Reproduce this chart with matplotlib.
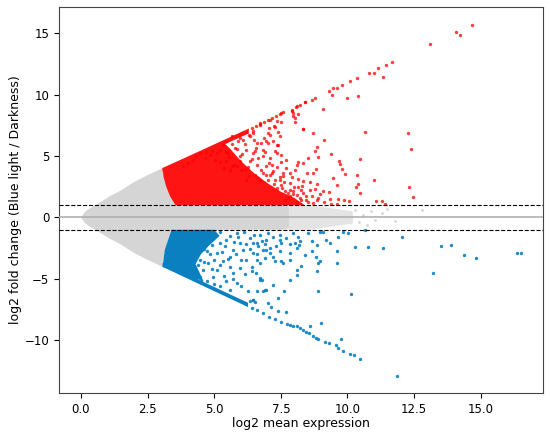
import numpy as np
import matplotlib
matplotlib.use("Agg")
import matplotlib.pyplot as plt

# envelope of the dense grey cone (upper half, mirrored for lower)
cone_x = [0.0, 0.15, 0.3, 0.5, 0.8, 1.1, 1.5, 2.0, 2.5, 3.06]
cone_y = [0.0, 0.45, 0.7, 0.95, 1.35, 1.75, 2.2, 2.9, 3.45, 4.02]

# dense grey band between the cut-offs (right part of the cloud)
band_x = [3.0, 3.6, 7.5, 7.8, 7.8, 7.5, 3.45, 3.0]
band_y = [4.02, 1.0, 1.0, 0.8, -0.8, -1.0, -1.0, -4.02]
# thinner grey tail of the band
tail_x = [7.4, 8.6, 10.2, 10.2, 8.6, 7.4]
tail_y = [1.0, 1.0, 0.5, -0.5, -1.0, -1.0]

# dense red (up) region outline
red_dense_x = [3.06, 4.2, 5.3, 5.6, 6.0, 6.5, 7.0, 7.5, 8.0, 8.4, 3.55, 3.35, 3.2, 3.1]
red_dense_y = [4.02, 5.1, 6.2, 5.6, 4.6, 3.6, 2.8, 2.1, 1.6, 1.0, 1.0, 1.7, 2.5, 3.3]
# red band along the maximum-fold-change edge
red_edge_x = [3.06, 6.3, 6.3, 3.06]
red_edge_y = [4.02, 7.25, 6.85, 3.7]

# dense blue (down) region outline
blue_dense_x = [3.4, 5.0, 5.2, 4.8, 4.5, 4.3, 4.6, 3.06, 3.15]
blue_dense_y = [-1.0, -1.0, -1.5, -2.3, -3.0, -3.8, -5.2, -4.02, -2.6]
blue_edge_x = [3.06, 6.27, 6.27, 3.06]
blue_edge_y = [-4.02, -7.3, -6.95, -3.7]

# scattered up-regulated genes
red_x = [14.69, 14.09, 14.21, 13.11, 11.67, 11.45, 11.16, 11.0, 10.81, 11.32, 10.35, 10.09,
         9.81, 9.61, 9.46, 9.30, 9.42, 10.0, 10.41, 8.77, 8.65, 8.42, 8.21, 8.05, 7.90, 7.59,
         9.09, 7.96, 8.15, 8.02, 8.02, 8.34, 8.69, 9.11, 10.67, 12.26, 12.39, 8.87, 8.79, 8.90,
         9.39, 9.69, 9.71, 9.79, 9.90, 10.46, 10.36, 10.99, 10.41, 10.31, 10.46, 12.32, 12.47,
         11.06, 11.30, 11.39, 10.05, 9.86, 9.65, 9.35, 9.39, 9.59, 9.09, 9.30, 8.84, 8.96, 9.59,
         9.45, 8.52, 8.34, 8.16, 8.72, 8.80, 8.49, 8.59, 8.77, 8.59, 8.34, 8.15, 7.96, 7.84,
         7.65, 8.09, 8.46, 8.84, 8.65, 7.84, 7.71, 7.52, 7.34, 7.34, 7.46, 7.52, 7.09, 7.02,
         6.84, 7.27, 7.09, 6.71, 6.77, 6.46, 6.52, 7.15, 7.46, 7.59, 7.09,
         6.4, 6.55, 6.7, 6.85, 7.0, 7.15, 7.3, 7.45,
         8.09, 8.40, 7.90, 7.96, 8.34, 7.52, 7.34, 7.24, 7.02, 6.96, 7.40, 7.27, 7.52, 6.71,
         6.46, 6.59, 6.34, 6.21, 6.09, 5.90, 5.77, 5.65, 5.46, 5.34, 5.21, 5.52, 5.96, 6.34,
         6.65, 6.96, 6.84, 7.21, 7.59, 7.84, 8.09, 8.02, 8.34, 8.27, 8.46, 7.65, 7.34, 5.02,
         4.84, 4.65, 4.46, 5.09, 5.84, 6.15, 6.52, 6.71, 7.02, 5.96, 5.46, 5.65, 4.21, 4.02,
         3.84, 6.84, 6.46, 7.09, 6.21, 7.27, 7.52, 7.84, 8.09, 7.77, 8.27,
         5.55, 5.75, 5.85, 6.05, 6.25, 6.4, 6.55, 6.6, 6.75, 6.9, 7.05, 7.15, 7.35, 7.45, 7.6,
         7.7, 7.9, 8.0, 8.15, 8.3, 5.45, 5.65, 5.95, 6.15, 6.3, 6.5, 6.85, 7.05, 7.2, 7.4,
         6.0, 6.3, 6.65, 6.95, 7.25, 7.55, 7.75, 7.95, 8.2, 8.5, 8.7, 8.9, 9.1, 5.2, 5.35,
         5.6, 4.9, 4.7, 4.3]
red_y = [15.70, 15.10, 14.86, 14.13, 12.66, 12.41, 12.14, 11.79, 11.76, 11.41, 11.33, 11.08,
         10.78, 10.59, 10.51, 10.29, 9.99, 9.70, 9.86, 9.70, 9.59, 9.40, 9.18, 9.04, 8.72, 8.56,
         8.83, 8.50, 8.47, 8.09, 7.74, 7.20, 6.87, 6.33, 6.98, 6.90, 5.54, 5.78, 5.38, 4.89,
         5.21, 4.64, 4.34, 3.96, 3.58, 4.75, 3.50, 3.04, 2.74, 2.47, 2.03, 2.50, 1.68,
         1.33, 1.33, 1.11, 1.33, 1.41, 1.54, 1.52, 1.08, 1.11, 2.14, 2.11, 2.71, 1.90, 2.63,
         3.20, 4.83, 4.42, 4.48, 3.61, 3.94, 3.61, 2.93, 2.30, 2.25, 1.98, 2.52, 2.12, 1.71,
         1.44, 1.30, 1.44, 1.44, 1.71, 3.61, 4.02, 4.56, 5.24, 5.92, 6.60, 7.82, 6.73, 6.06,
         4.97, 7.41, 7.96, 7.55, 6.06, 6.87, 5.38, 4.29, 3.07, 3.61, 3.47,
         7.3, 7.45, 7.6, 7.8, 7.95, 8.1, 8.25, 8.4,
         9.05, 9.37, 8.64, 8.29, 7.20, 8.51, 7.83, 7.42, 6.88, 6.20, 5.92, 5.38, 5.11, 7.69,
         7.01, 6.06, 6.60, 5.52, 6.33, 6.20, 5.65, 6.60, 6.20, 5.92, 5.52, 5.25, 4.97, 4.57,
         4.84, 4.16, 3.61, 3.75, 3.34, 2.80, 4.29, 3.89, 2.94, 2.26, 1.71, 2.12, 2.39, 4.70,
         5.11, 4.84, 5.25, 5.25, 4.16, 3.89, 3.48, 2.94, 3.07, 4.57, 4.57, 4.16, 4.70, 4.43,
         4.16, 5.52, 5.25, 4.84, 3.07, 3.07, 2.66, 2.26, 1.85, 1.58, 1.44,
         4.9, 4.3, 5.6, 5.2, 4.1, 4.8, 5.7, 4.3, 3.9, 5.3, 4.4, 3.6, 4.1, 3.3, 2.9,
         4.7, 3.3, 2.5, 3.1, 2.6, 5.3, 6.0, 6.5, 6.0, 6.7, 6.3, 6.5, 7.3, 6.2, 7.0,
         3.9, 3.4, 3.2, 3.5, 2.7, 2.4, 2.0, 1.9, 1.6, 1.25, 1.15, 1.6, 1.25, 4.5, 4.0,
         3.9, 5.4, 5.3, 5.0]

# scattered down-regulated genes
blue_x = [12.05, 13.51, 13.90, 14.36, 14.81, 16.37, 16.52, 13.21, 11.85, 10.77, 11.34, 10.30,
          10.66, 10.12, 10.46, 10.24, 10.09, 9.84, 9.65, 9.75, 9.56, 9.30, 9.15, 8.90, 8.81,
          8.69, 8.56, 8.44, 8.34, 8.21, 8.09, 7.96, 7.84, 7.74, 8.59, 9.02, 7.49, 7.27, 7.06,
          6.84, 6.59, 6.40, 7.71, 7.40, 7.12, 7.02, 7.40, 7.61, 7.21, 6.90, 6.84, 6.59, 6.46,
          6.52, 6.71, 6.81, 6.40, 7.86, 8.12, 8.90, 8.86, 8.90, 8.96, 8.24, 8.40, 8.80, 8.67,
          8.84, 9.34, 9.19, 9.61, 9.59, 9.65, 10.02, 9.84, 9.09, 8.96, 8.52, 8.19, 8.21, 8.02,
          7.84, 8.09, 7.96, 7.71, 7.46, 7.52, 7.46, 7.52, 7.27, 7.31, 7.09, 6.90, 6.84, 6.65,
          6.59, 6.46, 6.96, 7.21, 6.71, 8.15, 8.65, 7.84,
          5.96, 6.34, 6.46, 6.21, 5.96, 5.71, 5.46, 5.21, 5.59, 5.84, 6.27, 6.46, 6.71, 6.96,
          6.34, 5.09, 5.34, 5.59, 4.96, 4.77, 4.59, 4.46, 5.09, 5.71, 6.09, 5.46, 5.84, 6.59,
          6.71, 6.96, 7.21, 7.46, 7.59, 7.84, 8.09, 4.09, 4.21, 4.46, 4.71, 4.90, 5.21, 4.34,
          3.96, 3.84, 4.21, 4.02, 4.71,
          4.8, 5.0, 5.2, 5.4, 5.6, 5.75, 5.9, 6.1, 6.2, 6.35, 6.5, 6.6, 6.8, 6.9, 7.0, 7.1,
          5.3, 5.5, 5.0, 4.85, 4.6, 4.4, 4.9, 5.2, 5.6, 5.8, 6.0, 6.15, 6.4, 6.55, 4.5, 4.3,
          5.0, 5.35, 5.7, 6.0, 4.6, 4.4, 4.1]
blue_y = [-1.57, -2.36, -2.25, -3.04, -3.34, -2.93, -2.93, -4.54, -12.88, -2.44, -2.52, -2.42,
          -1.0, -6.25, -11.49, -11.19, -11.11, -10.84, -10.60, -9.92, -10.43, -10.19, -10.11,
          -9.89, -9.78, -9.64, -9.43, -9.29, -9.15, -9.02, -8.83, -8.83, -8.75, -8.67, -8.88,
          -8.61, -8.48, -8.29, -8.07, -7.80, -7.52, -7.39, -7.74, -7.66, -7.33, -6.98, -6.52,
          -5.98, -5.49, -5.89, -5.95, -6.03, -6.71, -6.85, -4.94, -5.08, -4.40, -5.08, -4.67,
          -6.03, -4.40, -3.72, -3.58, -3.94, -3.04, -3.18, -2.71, -2.25, -2.09, -1.82, -3.72,
          -2.71, -1.55, -1.27, -1.22, -1.19, -1.19, -1.27, -2.23, -1.95, -2.09, -2.14, -2.50,
          -1.27, -1.68, -1.41, -2.09, -2.77, -3.58, -3.58, -2.36, -2.91, -3.31, -2.63, -2.36,
          -3.45, -2.09, -1.82, -1.55, -1.41, -1.55, -1.95, -3.45,
          -2.09, -1.68, -2.90, -3.45, -4.13, -4.54, -5.21, -5.62, -5.89, -5.35, -6.03, -6.71,
          -5.08, -5.89, -6.84, -4.26, -3.58, -3.18, -4.81, -3.72, -4.26, -4.81, -2.90, -2.63,
          -2.63, -1.82, -1.27, -2.09, -3.72, -2.63, -3.18, -1.82, -3.72, -2.90, -4.26, -3.72,
          -3.18, -3.45, -2.77, -2.23, -2.09, -2.50, -2.90, -4.26, -4.67, -4.53, -5.21,
          -1.3, -1.6, -1.2, -2.3, -1.5, -2.0, -1.6, -1.2, -2.2, -2.6, -1.4, -3.0, -1.9, -2.2,
          -1.3, -2.5, -2.8, -3.4, -3.5, -3.0, -3.6, -3.9, -4.2, -3.9, -4.0, -3.0, -3.5, -4.6,
          -4.0, -4.5, -5.2, -4.9, -5.4, -4.8, -5.0, -5.6, -2.6, -2.2, -2.7]

# sparse non-significant genes beyond the dense band
grey_x = [10.3, 10.45, 10.6, 10.75, 10.9, 11.05, 11.3, 11.5, 11.8, 12.8]
grey_y = [0.6, -0.4, 0.2, -0.6, 0.5, -0.2, 0.4, 0.7, -0.3, 0.6]

red_col = "#ff1414"
blue_col = "#0a80c0"
grey_col = "#d5d5d5"

fig = plt.figure(figsize=(5.5, 4.37), dpi=100)
ax = fig.add_axes([0.107, 0.1007, 0.88, 0.8833])

cx = np.array(cone_x)
cy = np.array(cone_y)
ax.fill(np.concatenate([cx, cx[::-1]]), np.concatenate([cy, -cy[::-1]]),
        color=grey_col, lw=0, zorder=1)
ax.fill(band_x, band_y, color=grey_col, lw=0, zorder=1)
ax.fill(tail_x, tail_y, color="#e4e4e4", lw=0, zorder=0.9)
ax.scatter(grey_x, grey_y, s=4, color=grey_col, lw=0, zorder=1)

ax.fill(red_dense_x, red_dense_y, color=red_col, lw=0, zorder=2)
ax.fill(red_edge_x, red_edge_y, color=red_col, lw=0, zorder=2)
ax.scatter(red_x, red_y, s=6, color="red", alpha=0.75, lw=0, zorder=3)

ax.fill(blue_dense_x, blue_dense_y, color=blue_col, lw=0, zorder=2)
ax.fill(blue_edge_x, blue_edge_y, color=blue_col, lw=0, zorder=2)
ax.scatter(blue_x, blue_y, s=6, color=blue_col, alpha=0.9, lw=0, zorder=3)

ax.axhline(0, color="#b0b0b0", lw=1.2, zorder=4)
ax.axhline(1, color="black", lw=0.8, ls="--", zorder=4)
ax.axhline(-1, color="black", lw=0.8, ls="--", zorder=4)

ax.set_xlim(-0.83, 17.33)
ax.set_ylim(-14.3, 17.15)
ax.set_xticks([0.0, 2.5, 5.0, 7.5, 10.0, 12.5, 15.0])
ax.set_yticks([-10, -5, 0, 5, 10, 15])
ax.tick_params(labelsize=8.5)
ax.set_xlabel("log2 mean expression", fontsize=9, labelpad=1)
ax.set_ylabel("log2 fold change (Blue light / Darkness)", fontsize=9, labelpad=2)
for s in ax.spines.values():
    s.set_color("#444444")

fig.savefig("out.png", dpi=100)
